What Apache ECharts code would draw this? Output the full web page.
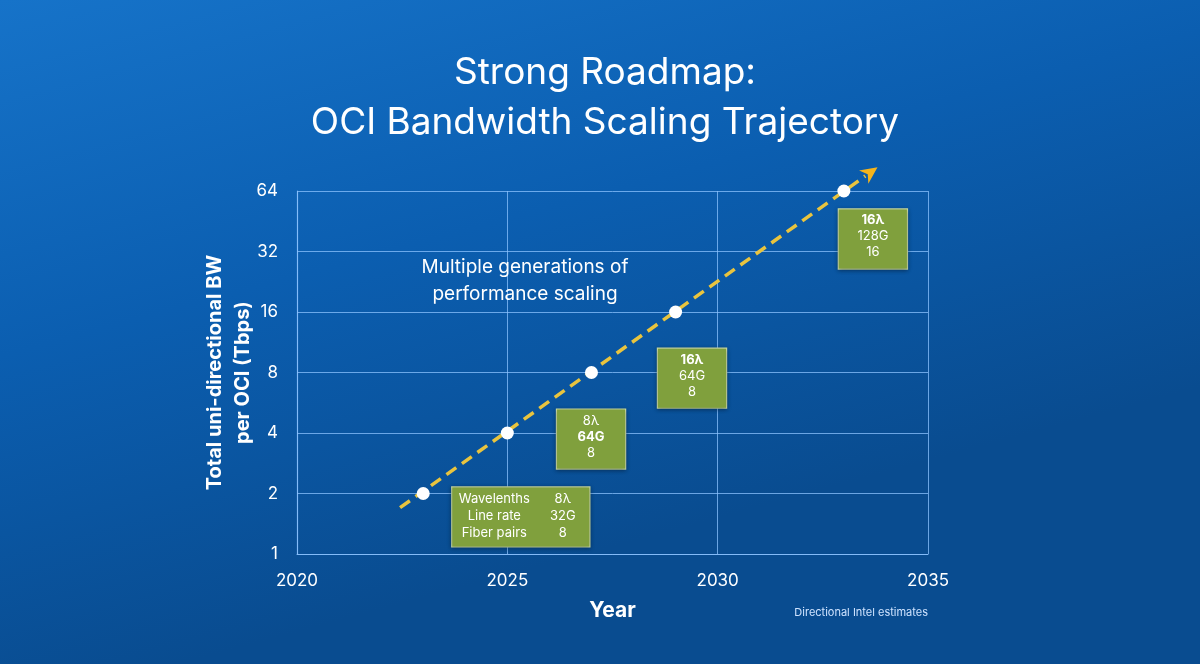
<!DOCTYPE html>
<html lang="en">
<head>
  <meta charset="UTF-8">
  <title>OCI Bandwidth Scaling Trajectory</title>
  <script src="https://cdn.jsdelivr.net/npm/echarts@6/dist/echarts.min.js"></script>
  <style>
    html, body { margin: 0; padding: 0; }
    #chart { width: 1200px; height: 664px; }
  </style>
</head>
<body>
  <div id="chart"></div>
  <script type="text/javascript">
    // milestones: year and total bandwidth (Tbps)
    const years = [2023, 2025, 2027, 2029, 2033];
    const bandwidth = [2, 4, 8, 16, 64];

    // trend arrow start / end
    const trendStart = [2022.45, 1.7];
    const trendEnd = [2033.8, 84];

    const xTicks = [2020, 2025, 2030, 2035];
    const yTicks = [1, 2, 4, 8, 16, 32, 64];

    // annotation boxes: anchor [year, value] and text lines
    const boxAnchors = [[2025.32, 1.53], [2026.99, 3.73], [2029.39, 7.5], [2033.69, 36.9]];
    const boxLines = [
      [['Wavelenths', '8λ'], ['Line rate', '32G'], ['Fiber pairs', '8']],
      ['8λ', '64G', '8'],
      ['16λ', '64G', '8'],
      ['16λ', '128G', '16']
    ];
    const boxBold = [[], [1], [0], [0]];

    const noteAnchor = [2025.42, 22.8];
    const noteText = 'Multiple generations of\nperformance scaling';

    const font = 'Inter, "Open Sans", sans-serif';
    const gridColor = 'rgba(140, 195, 255, 0.75)';

    const myChart = echarts.init(document.getElementById('chart'));

    function boxFormatter(i) {
      const lines = boxLines[i];
      if (i === 0) {
        return lines.map(l => '{a|' + l[0] + '}{b|' + l[1] + '}').join('\n');
      }
      return lines.map((l, k) => (boxBold[i].includes(k) ? '{s|' : '{n|') + l + '}').join('\n');
    }

    const boxData = boxAnchors.map((p, i) => ({
      value: p,
      label: {
        formatter: boxFormatter(i),
        width: i === 0 ? 137 : 68,
        height: 56,
        padding: [3, 0, 0, 0]
      }
    }));

    // dashed trend line with arrow head, positioned through the axes
    function renderTrend(params, api) {
      const p0 = api.coord(trendStart);
      const p1 = api.coord(trendEnd);
      const dx = p1[0] - p0[0];
      const dy = p1[1] - p0[1];
      const len = Math.sqrt(dx * dx + dy * dy);
      const ux = dx / len, uy = dy / len;
      const head = 17, half = 8;
      const base = [p1[0] - ux * head, p1[1] - uy * head];
      return {
        type: 'group',
        children: [
          {
            type: 'line',
            shape: { x1: p0[0], y1: p0[1], x2: base[0] + ux * 2, y2: base[1] + uy * 2 },
            style: { stroke: '#e9c43e', lineWidth: 3.5, lineDash: [12, 7] }
          },
          {
            type: 'polygon',
            shape: {
              points: [
                p1,
                [base[0] - uy * half, base[1] + ux * half],
                [base[0] + ux * 5, base[1] + uy * 5],
                [base[0] + uy * half, base[1] - ux * half]
              ]
            },
            style: { fill: '#f5b41c' }
          }
        ]
      };
    }

    const option = {
      backgroundColor: {
        type: 'linear', x: 0, y: 0, x2: 0.15, y2: 1,
        colorStops: [
          { offset: 0, color: '#1673c9' },
          { offset: 0.5, color: '#0b5eb0' },
          { offset: 1, color: '#094c90' }
        ]
      },
      title: {
        text: 'Strong Roadmap:\nOCI Bandwidth Scaling Trajectory',
        left: 600,
        top: 43,
        textAlign: 'center',
        textStyle: {
          color: '#ffffff',
          fontFamily: font,
          fontWeight: 'normal',
          fontSize: 37,
          lineHeight: 50,
          align: 'center'
        }
      },
      grid: { left: 297, right: 272, top: 191, bottom: 110 },
      xAxis: {
        type: 'value',
        min: xTicks[0],
        max: xTicks[xTicks.length - 1],
        interval: 5,
        name: 'Year',
        nameLocation: 'middle',
        nameGap: 46,
        nameTextStyle: { color: '#ffffff', fontFamily: font, fontWeight: 'bold', fontSize: 21 },
        axisLine: { lineStyle: { color: gridColor, width: 1.2 } },
        axisTick: { show: false },
        axisLabel: { color: '#ffffff', fontFamily: font, fontSize: 17, margin: 18, formatter: v => String(v) },
        splitLine: { lineStyle: { color: gridColor, width: 1 } }
      },
      yAxis: {
        type: 'log',
        logBase: 2,
        min: yTicks[0],
        max: yTicks[yTicks.length - 1],
        name: 'Total uni-directional BW\nper OCI (Tbps)',
        nameLocation: 'middle',
        nameGap: 40,
        nameMoveOverlap: false,
        nameTextStyle: { color: '#ffffff', fontFamily: font, fontWeight: 'bold', fontSize: 20, lineHeight: 28 },
        axisLine: { show: true, lineStyle: { color: gridColor, width: 1.2 } },
        axisTick: { show: false },
        axisLabel: { color: '#ffffff', fontFamily: font, fontSize: 17, margin: 19 },
        splitLine: { lineStyle: { color: gridColor, width: 1 } }
      },
      series: [
        {
          type: 'custom',
          z: 2,
          clip: false,
          silent: true,
          data: [0],
          renderItem: renderTrend
        },
        {
          type: 'scatter',
          z: 3,
          data: years.map((y, i) => [y, bandwidth[i]]),
          symbol: 'circle',
          symbolSize: 13,
          itemStyle: { color: '#ffffff', opacity: 1 }
        },
        {
          type: 'scatter',
          z: 4,
          silent: true,
          symbolSize: 0,
          itemStyle: { opacity: 1 },
          data: boxData,
          label: {
            show: true,
            position: 'inside',
            backgroundColor: '#80a03d',
            borderColor: '#c9dba3',
            borderWidth: 1.2,
            shadowColor: 'rgba(0,0,0,0.3)',
            shadowBlur: 4,
            shadowOffsetY: 1,
            align: 'center',
            verticalAlign: 'middle',
            color: '#ffffff',
            fontFamily: font,
            rich: {
              a: { width: 84, align: 'center', color: '#ffffff', fontFamily: font, fontSize: 13, lineHeight: 17 },
              b: { width: 53, align: 'center', color: '#ffffff', fontFamily: font, fontSize: 13, lineHeight: 17 },
              n: { width: 68, align: 'center', color: '#ffffff', fontFamily: font, fontSize: 13, lineHeight: 16 },
              s: { width: 68, align: 'center', color: '#ffffff', fontFamily: font, fontSize: 13, fontWeight: 'bold', lineHeight: 16 }
            }
          }
        },
        {
          type: 'scatter',
          z: 4,
          silent: true,
          symbolSize: 0,
          itemStyle: { opacity: 1 },
          data: [noteAnchor],
          label: {
            show: true,
            position: 'inside',
            formatter: noteText,
            color: '#ffffff',
            fontFamily: font,
            fontSize: 19,
            lineHeight: 27,
            align: 'center'
          }
        }
      ],
      graphic: [{
        type: 'text',
        right: 272,
        top: 607,
        style: {
          text: 'Directional Intel estimates',
          fill: '#cfe3ff',
          font: '11px ' + font
        }
      }]
    };
    myChart.setOption(option);
  </script>
</body>
</html>
